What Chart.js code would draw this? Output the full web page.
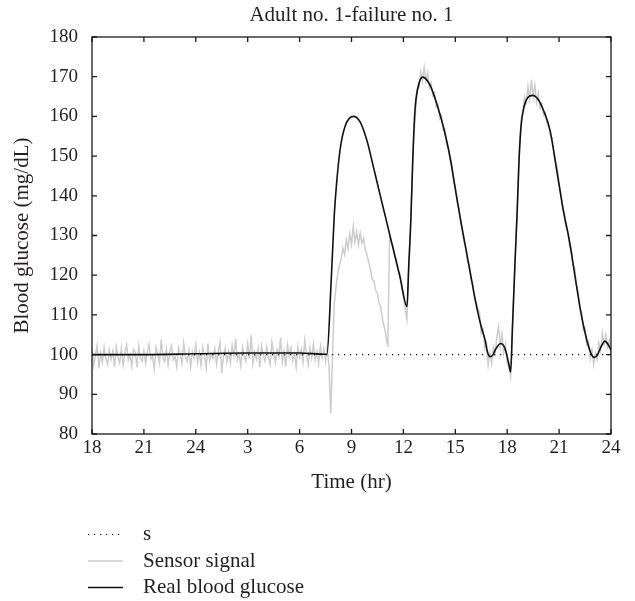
<!DOCTYPE html>
<html>
<head>
<meta charset="utf-8">
<script src="https://cdn.jsdelivr.net/npm/chart.js@4.4.0/dist/chart.umd.min.js"></script>
<style>
  html, body { margin: 0; padding: 0; background: #fff; }
</style>
</head>
<body>
<canvas id="glucoseChart" width="635" height="601"></canvas>
<script>
// time axis runs in hours from 18:00 on day one (18) to midnight of day two (48)
const hourTicks = [18, 21, 24, 27, 30, 33, 36, 39, 42, 45, 48];
const hourTickLabels = ['18', '21', '24', '3', '6', '9', '12', '15', '18', '21', '24'];

// dotted reference level "s"
const levelHours = [18, 48];
const levelGlucose = [100, 100];

// real blood glucose
const realHours = [
  18, 21, 24, 27, 30, 31.5, 31.58, 31.82, 32.0, 32.14, 32.34, 32.62, 33.1,
  33.49, 33.88, 34.26, 34.65, 35.0, 35.4, 35.8, 36.21,
  36.3, 36.44, 36.54, 36.67, 36.86, 37.11, 37.54, 37.92, 38.31,
  38.69, 38.98, 39.27, 39.46, 39.85, 40.23, 40.5, 40.72, 40.85, 41.0, 41.15,
  41.35, 41.62, 41.85, 42.0, 42.1, 42.2, 42.3, 42.45, 42.58, 42.68,
  42.8, 42.98, 43.2, 43.47, 43.8, 44.1, 44.47, 44.86, 45.24,
  45.59, 45.9, 46.2, 46.5, 46.8, 47.02, 47.2, 47.45, 47.65, 47.85, 48
];
const realGlucose = [
  100, 100, 100.2, 100.4, 100.4, 100.1, 100.1, 118, 134.8, 143.2, 151.6, 157.4, 160,
  158.7, 154.1, 147.4, 140.3, 134, 126.8, 119.6, 112.1,
  121.5, 135, 149, 161.6, 167.6, 169.9, 167.9, 163.3, 157.4,
  149.9, 142.3, 134.8, 130.2, 121, 112.1, 107, 103.7, 100.8, 99.5, 99.8,
  101.5, 102.8, 101.8, 99.5, 97.5, 95.6, 106.5, 123, 136.4, 148.5,
  157.5, 162.5, 164.8, 165.3, 164.2, 161.5, 156.6, 146.5, 136.4,
  128.8, 120.3, 112.1, 105.5, 100.8, 99.3, 99.8, 102.2, 103.4, 102.4, 101.2
];

// sensor signal, one reading every 0.1 hr from 18 to 48
const sensorStart = 18;
const sensorStep = 0.1;
const sensorSignal = [
  101.5, 97.2, 99.8, 102.3, 96.5, 100.4, 98.1, 101.9, 99.0, 97.6,
  101.2, 98.8, 100.9, 96.9, 102.0, 99.3, 98.0, 101.6, 97.4, 100.2,
  102.4, 98.6, 99.9, 97.1, 101.3, 100.6, 96.8, 102.1, 99.2, 98.4,
  101.0, 97.8, 100.7, 102.6, 98.9, 99.5, 96.4, 101.8, 100.1, 97.9,
  103.8, 99.1, 98.2, 101.4, 97.5, 100.9, 102.2, 98.7, 99.6, 96.9,
  101.7, 100.3, 97.7, 102.9, 99.4, 98.3, 101.1, 97.0, 100.8, 99.0,
  102.5, 98.0, 100.6, 97.3, 101.9, 99.7, 96.6, 102.8, 98.5, 100.2,
  99.1, 101.4, 97.6, 100.9, 103.2, 95.4, 99.8, 101.6, 98.2, 100.7,
  97.9, 102.3, 99.5, 104.0, 98.6, 100.1, 97.2, 101.8, 99.9, 98.3,
  102.6, 99.0, 104.9, 97.8, 100.7, 98.9, 101.5, 96.8, 102.2, 100.0,
  98.4, 101.9, 99.3, 97.5, 103.1, 100.6, 98.0, 101.2, 99.7, 104.3,
  98.1, 100.8, 97.0, 102.4, 99.6, 101.7, 98.5, 100.3, 96.9, 102.0,
  99.4, 101.3, 98.2, 103.6, 100.0, 97.4, 101.8, 99.1, 102.7, 98.6,
  100.9, 97.8, 102.1, 99.2, 101.4, 98.3, 101.8, 97.0, 85.2, 99.0,
  112.5, 116.8, 120.2, 122.4, 124.1, 126.8, 125.2, 128.9, 126.7, 130.4,
  127.8, 132.2, 128.4, 131.0, 127.6, 130.6, 128.1, 129.3, 126.4, 125.0,
  123.2, 121.4, 119.0, 118.6, 116.2, 115.4, 112.9, 111.8, 108.6, 106.9,
  104.5, 102.0, 129.8, 128.2, 127.5, 124.6, 124.0, 121.2, 120.4, 116.9,
  115.2, 111.6, 108.9, 119.5, 131.0, 143.5, 154.8, 161.0, 166.9, 167.2,
  171.3, 168.9, 172.4, 169.0, 171.0, 167.1, 168.5, 165.2, 166.0, 162.4,
  163.0, 159.4, 160.2, 156.6, 156.8, 152.9, 152.4, 148.8, 148.0, 143.6,
  142.5, 138.4, 137.2, 133.3, 132.0, 128.4, 127.3, 123.6, 122.5, 118.9,
  117.9, 114.3, 113.5, 111.8, 110.6, 105.2, 106.4, 101.6, 102.9, 97.4,
  100.6, 97.8, 101.9, 100.2, 104.3, 107.0, 102.1, 105.2, 100.4, 102.6,
  98.0, 96.8, 94.6, 105.8, 117.5, 129.0, 139.2, 151.4, 159.0, 161.4,
  164.9, 163.6, 167.6, 164.4, 169.2, 165.0, 167.8, 163.5, 165.9, 162.0,
  163.1, 160.3, 160.9, 158.1, 157.6, 155.2, 154.6, 151.0, 148.9, 146.9,
  143.0, 140.9, 136.8, 135.9, 132.0, 131.2, 127.4, 126.8, 122.7, 121.9,
  117.6, 116.0, 111.4, 110.8, 106.2, 106.9, 102.4, 103.3, 99.0, 101.2,
  97.6, 100.3, 98.8, 102.9, 101.0, 105.4, 102.6, 105.0, 101.9, 103.6,
  99.4
];

const textColor = '#231f20';
Chart.defaults.font.family = '"Liberation Serif", "Times New Roman", serif';
Chart.defaults.color = textColor;

// closed box with short inward ticks on all four sides
const boxFrame = {
  id: 'boxFrame',
  afterDatasetsDraw(chart, args, opts) {
    const { ctx, chartArea: a, scales: { x, y } } = chart;
    ctx.save();
    ctx.strokeStyle = opts.color;
    ctx.lineWidth = opts.width;
    ctx.strokeRect(a.left, a.top, a.right - a.left, a.bottom - a.top);
    ctx.beginPath();
    x.ticks.forEach(t => {
      const px = x.getPixelForValue(t.value);
      ctx.moveTo(px, a.bottom); ctx.lineTo(px, a.bottom - opts.tick);
      ctx.moveTo(px, a.top); ctx.lineTo(px, a.top + opts.tick);
    });
    y.ticks.forEach(t => {
      const py = y.getPixelForValue(t.value);
      ctx.moveTo(a.left, py); ctx.lineTo(a.left + opts.tick, py);
      ctx.moveTo(a.right, py); ctx.lineTo(a.right - opts.tick, py);
    });
    ctx.stroke();
    ctx.restore();
  }
};

// legend stacked one entry per row under the plot
const stackedLegend = {
  id: 'stackedLegend',
  afterDraw(chart, args, opts) {
    const ctx = chart.ctx;
    ctx.save();
    chart.data.datasets.forEach((ds, i) => {
      const yy = opts.top + i * opts.rowGap;
      ctx.beginPath();
      ctx.setLineDash(ds.borderDash || []);
      ctx.strokeStyle = ds.borderColor;
      ctx.lineWidth = ds.borderWidth;
      ctx.moveTo(opts.left, yy);
      ctx.lineTo(opts.left + opts.lineLength, yy);
      ctx.stroke();
      ctx.setLineDash([]);
      ctx.fillStyle = textColor;
      ctx.font = opts.fontSize + 'px ' + Chart.defaults.font.family;
      ctx.textAlign = 'left';
      ctx.textBaseline = 'middle';
      ctx.fillText(ds.label, opts.textLeft, yy);
    });
    ctx.restore();
  }
};

new Chart(document.getElementById('glucoseChart'), {
  type: 'line',
  data: {
    datasets: [
      {
        label: 's',
        data: levelHours.map((h, i) => ({ x: h, y: levelGlucose[i] })),
        borderColor: '#000',
        borderWidth: 1.2,
        borderDash: [1.2, 4.8],
        pointRadius: 0,
        order: 0
      },
      {
        label: 'Sensor signal',
        data: sensorSignal.map((v, i) => ({ x: sensorStart + i * sensorStep, y: v })),
        borderColor: '#cdcdcd',
        borderWidth: 1.5,
        pointRadius: 0,
        tension: 0,
        order: 2
      },
      {
        label: 'Real blood glucose',
        data: realHours.map((h, i) => ({ x: h, y: realGlucose[i] })),
        borderColor: '#111',
        borderWidth: 1.6,
        pointRadius: 0,
        cubicInterpolationMode: 'monotone',
        order: 1
      }
    ]
  },
  options: {
    responsive: false,
    animation: false,
    layout: { padding: { top: 0, right: 24, bottom: 105, left: 0 } },
    scales: {
      x: {
        type: 'linear',
        min: 18,
        max: 48,
        afterBuildTicks: s => { s.ticks = hourTicks.map(v => ({ value: v })); },
        afterFit: s => { s.height = 62; },
        grid: { display: false, drawTicks: false },
        border: { display: false },
        ticks: {
          padding: 3,
          maxRotation: 0,
          autoSkip: false,
          font: { size: 19 },
          callback: (v, i) => hourTickLabels[i]
        },
        title: { display: true, text: 'Time (hr)', font: { size: 21 }, padding: { top: 0, bottom: 1 } }
      },
      y: {
        min: 80,
        max: 180,
        afterFit: s => { s.width = 92; },
        grid: { display: false, drawTicks: false },
        border: { display: false },
        ticks: { stepSize: 10, padding: 14, font: { size: 19 } },
        title: { display: true, text: 'Blood glucose (mg/dL)', font: { size: 21 }, padding: { top: 10, bottom: 0 } }
      }
    },
    plugins: {
      legend: { display: false },
      tooltip: { enabled: false },
      title: {
        display: true,
        text: 'Adult no. 1-failure no. 1',
        fullSize: false,
        color: textColor,
        font: { size: 21, weight: 'normal' },
        padding: { top: 3, bottom: 8.8 }
      },
      boxFrame: { color: '#1a1a1a', width: 1.3, tick: 5 },
      stackedLegend: { left: 88, lineLength: 35, textLeft: 143, top: 534.5, rowGap: 26.5, fontSize: 21 }
    }
  },
  plugins: [boxFrame, stackedLegend]
});
</script>
</body>
</html>
